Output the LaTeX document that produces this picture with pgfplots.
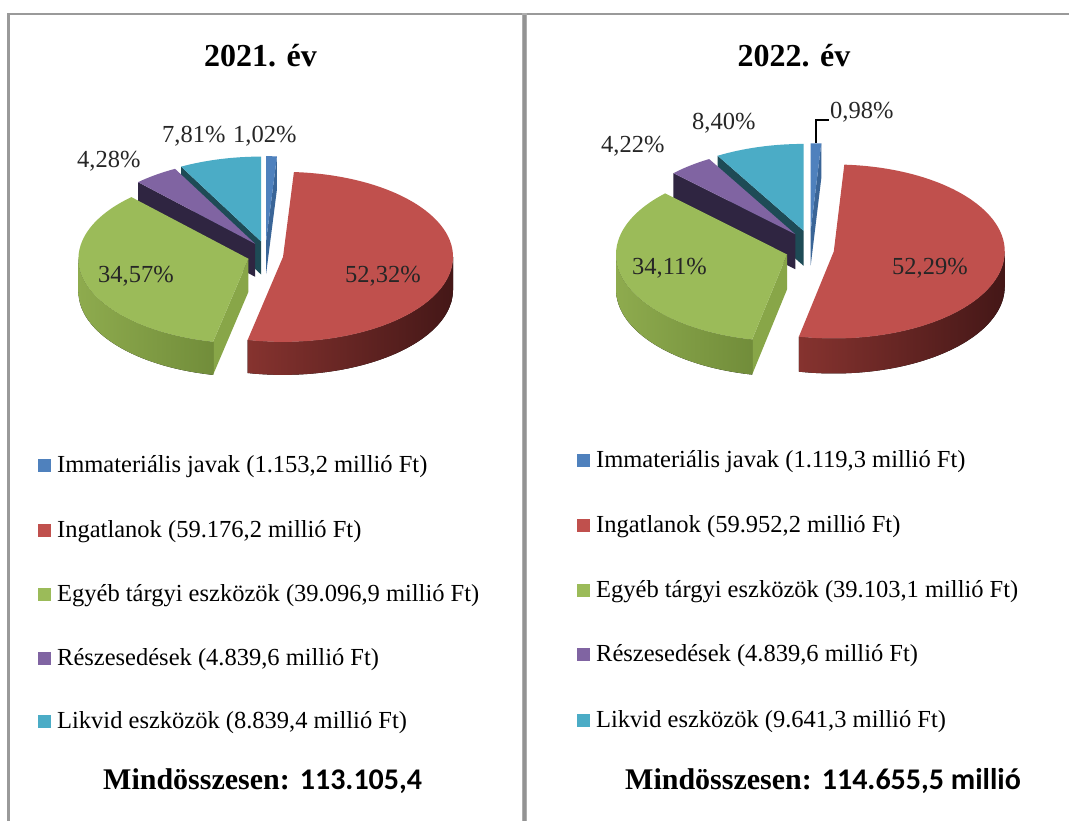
\documentclass[border=0pt]{standalone}
\usepackage{fontspec}
\setmainfont{Liberation Serif}
\newfontfamily\carlito{Carlito}
\usepackage{pgfplots}
\usepackage{pgfplotstable}
\pgfplotsset{compat=1.18}

\definecolor{cBlue}{HTML}{4F81BD}
\definecolor{cRed}{HTML}{C0504D}
\definecolor{cGreen}{HTML}{9BBB59}
\definecolor{cPurple}{HTML}{8064A2}
\definecolor{cCyan}{HTML}{4BACC6}
\definecolor{cBlueW}{HTML}{3A6597}
\definecolor{cRedSL}{HTML}{86332F}
\definecolor{cRedSR}{HTML}{441717}
\definecolor{cGreenSL}{HTML}{8EAB4E}
\definecolor{cGreenSR}{HTML}{6A8535}
\definecolor{cGreenW}{HTML}{88A648}
\definecolor{cPurpleW}{HTML}{2F2541}
\definecolor{cCyanW}{HTML}{1E4B56}
\definecolor{frameC}{HTML}{9A9A9A}
\definecolor{labC}{HTML}{262626}

% shares in per cent, clockwise from 12 o'clock:
% Immateriális javak, Ingatlanok, Egyéb tárgyi eszközök, Részesedések, Likvid eszközök
\pgfplotstableread{
pct
1.02
52.32
34.57
4.28
7.81
}\pieA
\pgfplotstableread{
pct
0.98
52.29
34.11
4.22
8.40
}\pieB

\newcommand\mkangles[2]{%
  \def\cum{90}%
  \expandafter\xdef\csname #20\endcsname{90}%
  \pgfplotsforeachungrouped \ii in {0,...,4}{%
    \pgfplotstablegetelem{\ii}{pct}\of{#1}%
    \pgfmathsetmacro\cum{\cum-3.6*\pgfplotsretval}%
    \pgfmathtruncatemacro\jj{\ii+1}%
    \expandafter\xdef\csname #2\jj\endcsname{\cum}%
  }}
\mkangles{\pieA}{A}
\mkangles{\pieB}{B}
\newcommand\ang[2]{\csname#1#2\endcsname}

\newcommand\setpie[7]{\def\pcx{#1}\def\pcy{#2}\def\pe{#3}\def\pa{#4}\def\pb{#5}\def\pd{#6}\def\pvf{#7}}
\newcommand\offs[2]{%
  \pgfmathsetmacro\pmid{(#1+#2)/2}%
  \pgfmathsetmacro\ox{\pcx+\pe*cos(\pmid)}%
  \pgfmathsetmacro\oy{\pcy+\pe*\pvf*sin(\pmid)}}
\newcommand\ptop[3]{%
  \offs{#1}{#2}%
  \edef\tmp{\noexpand\fill[#3] (axis cs:\ox,\oy) -- ++(#1:\pa pt and \pb pt) arc[start angle=#1, end angle=#2, x radius=\pa pt, y radius=\pb pt] -- cycle;}\tmp}
\newcommand\pside[5]{%
  \offs{#1}{#2}%
  \edef\tmp{\noexpand\fill[#5] (axis cs:\ox,\oy) ++(#3:\pa pt and \pb pt) arc[start angle=#3, end angle=#4, x radius=\pa pt, y radius=\pb pt] -- ++(0pt,-\pd pt) arc[start angle=#4, end angle=#3, x radius=\pa pt, y radius=\pb pt] -- cycle;}\tmp}
\newcommand\pwall[4]{%
  \offs{#1}{#2}%
  \pgfmathsetmacro\opp{#3+180}%
  \edef\tmp{\noexpand\fill[#4] (axis cs:\ox,\oy) -- ++(#3:\pa pt and \pb pt) -- ++(0pt,-\pd pt) -- ++(\opp:\pa pt and \pb pt) -- cycle;}\tmp}

\newcommand\drawpie[1]{%
  % walls and sides (back to front)
  \pwall{\ang #11}{\ang #12}{\ang #12}{}% placeholder no-op removed below
}

\newcommand\labf{\fontsize{24.5}{29}\selectfont}
\newcommand\ttlf{\fontsize{32}{38}\selectfont\bfseries}
\newcommand\sumf{\fontsize{30}{36}\selectfont\bfseries}

\begin{document}
\begin{tikzpicture}
\begin{axis}[x=1pt,y=1pt,xmin=0,xmax=1069,ymin=0,ymax=821,hide axis,clip=false]
\fill[white] (axis cs:0,0) rectangle (axis cs:1069,821);
% frame
\fill[frameC] (axis cs:7.3,0) rectangle (axis cs:10,808.3);
\fill[frameC] (axis cs:7.3,806) rectangle (axis cs:1069,808.3);
\fill[frameC!80] (axis cs:521.5,0) rectangle (axis cs:527,808.3);
\fill[gray!85!white] (axis cs:522.5,0) rectangle (axis cs:526,806);

% ---------- pie 2021 ----------
\setpie{265.5}{566}{17.7}{170}{85}{33}{0.78}
\pwall{\ang A4}{\ang A5}{\ang A4}{cCyanW}
\pwall{\ang A3}{\ang A4}{\ang A3}{cPurpleW}
\pwall{\ang A0}{\ang A1}{\ang A1}{cBlueW}
\pwall{\ang A2}{\ang A3}{\ang A2}{cGreenW}
\pside{\ang A2}{\ang A3}{-180}{\ang A2}{left color=cGreenSL,right color=cGreenSR}
\pside{\ang A1}{\ang A2}{\ang A2}{0}{left color=cRedSL,right color=cRedSR}
\ptop{\ang A0}{\ang A1}{cBlue}
\ptop{\ang A1}{\ang A2}{cRed}
\ptop{\ang A2}{\ang A3}{cGreen}
\ptop{\ang A3}{\ang A4}{cPurple}
\ptop{\ang A4}{\ang A5}{cCyan}

% ---------- pie 2022 ----------
\setpie{810}{572}{24}{171}{87}{35}{0.78}
\pwall{\ang B4}{\ang B5}{\ang B4}{cCyanW}
\pwall{\ang B3}{\ang B4}{\ang B3}{cPurpleW}
\pwall{\ang B0}{\ang B1}{\ang B1}{cBlueW}
\pwall{\ang B2}{\ang B3}{\ang B2}{cGreenW}
\pside{\ang B2}{\ang B3}{-180}{\ang B2}{left color=cGreenSL,right color=cGreenSR}
\pside{\ang B1}{\ang B2}{\ang B2}{0}{left color=cRedSL,right color=cRedSR}
\ptop{\ang B0}{\ang B1}{cBlue}
\ptop{\ang B1}{\ang B2}{cRed}
\ptop{\ang B2}{\ang B3}{cGreen}
\ptop{\ang B3}{\ang B4}{cPurple}
\ptop{\ang B4}{\ang B5}{cCyan}

% titles
\node[anchor=base,font=\ttlf] at (axis cs:260.5,754) {2021. év};
\node[anchor=base,font=\ttlf] at (axis cs:794,754) {2022. év};

% data labels 2021
\begin{scope}[every node/.style={anchor=base west,font=\labf,text=labC,inner sep=0pt}]
\node at (axis cs:162,678) {7,81\%};
\node at (axis cs:233,678) {1,02\%};
\node at (axis cs:77,653) {4,28\%};
\node at (axis cs:98,538) {34,57\%};
\node at (axis cs:345,538) {52,32\%};
% data labels 2022
\node at (axis cs:692,691) {8,40\%};
\node at (axis cs:601,668) {4,22\%};
\node at (axis cs:830,702) {0,98\%};
\node at (axis cs:632,546) {34,11\%};
\node at (axis cs:892,546) {52,29\%};
\end{scope}
\draw[black,line width=1.3pt] (axis cs:816,678) -- (axis cs:816,701) -- (axis cs:829,701);

% legend 2021
\fill[cBlue]   (axis cs:38,348.5) rectangle (axis cs:51,361.5);
\fill[cRed]    (axis cs:38,283.5) rectangle (axis cs:51,296.5);
\fill[cGreen]  (axis cs:38,219.5) rectangle (axis cs:51,232.5);
\fill[cPurple] (axis cs:38,155.5) rectangle (axis cs:51,168.5);
\fill[cCyan]   (axis cs:38,92.5)  rectangle (axis cs:51,105.5);
\begin{scope}[every node/.style={anchor=base west,font=\labf,inner sep=0pt}]
\node at (axis cs:57,348) {Immateriális javak (1.153,2 millió Ft)};
\node at (axis cs:57,283) {Ingatlanok (59.176,2 millió Ft)};
\node at (axis cs:57,219) {Egyéb tárgyi eszközök (39.096,9 millió Ft)};
\node at (axis cs:57,155) {Részesedések (4.839,6 millió Ft)};
\node at (axis cs:57,92)  {Likvid eszközök (8.839,4 millió Ft)};
\end{scope}
% legend 2022
\fill[cBlue]   (axis cs:577,354) rectangle (axis cs:589.5,366.5);
\fill[cRed]    (axis cs:577,289) rectangle (axis cs:589.5,301.5);
\fill[cGreen]  (axis cs:577,224) rectangle (axis cs:589.5,236.5);
\fill[cPurple] (axis cs:577,160) rectangle (axis cs:589.5,172.5);
\fill[cCyan]   (axis cs:577,94)  rectangle (axis cs:589.5,106.5);
\begin{scope}[every node/.style={anchor=base west,font=\labf,inner sep=0pt}]
\node at (axis cs:596,353) {Immateriális javak (1.119,3 millió Ft)};
\node at (axis cs:596,288) {Ingatlanok (59.952,2 millió Ft)};
\node at (axis cs:596,223) {Egyéb tárgyi eszközök (39.103,1 millió Ft)};
\node at (axis cs:596,159) {Részesedések (4.839,6 millió Ft)};
\node at (axis cs:596,93)  {Likvid eszközök (9.641,3 millió Ft)};
\end{scope}

% totals
\node[anchor=base west,font=\sumf,inner sep=0pt] at (axis cs:103,31) {Mindösszesen: {\carlito 113.105,4}};
\node[anchor=base west,font=\sumf,inner sep=0pt] at (axis cs:625,31) {Mindösszesen: {\carlito 114.655,5 millió}};
\end{axis}
\end{tikzpicture}
\end{document}
